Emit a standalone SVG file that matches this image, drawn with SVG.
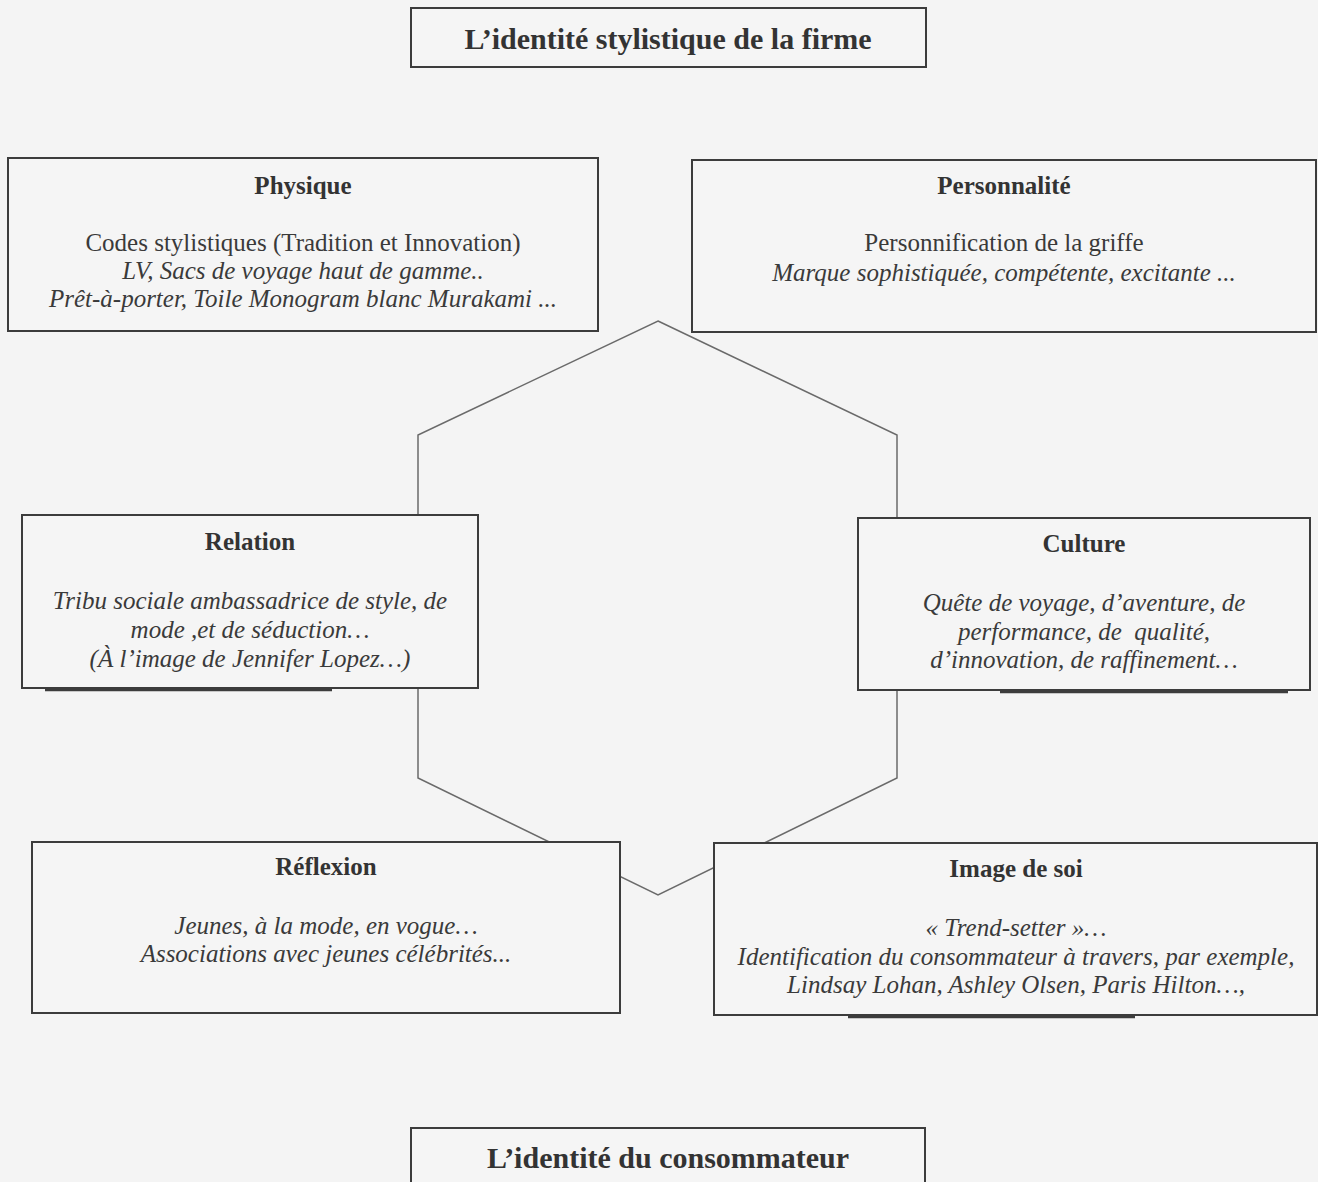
<svg xmlns="http://www.w3.org/2000/svg" width="1318" height="1182" viewBox="0 0 1318 1182">
<style>
.bg{fill:#f4f4f4}
.box{fill:#f5f5f5;stroke:#3c3c3c;stroke-width:2}
.sh{stroke:#3c3c3c;stroke-width:2.5}
.ttl{font-family:"Liberation Serif",serif;font-weight:bold;font-size:30px;fill:#333;text-anchor:middle}
.hd{font-family:"Liberation Serif",serif;font-weight:bold;font-size:25px;fill:#333;text-anchor:middle}
.tx{font-family:"Liberation Serif",serif;font-size:25px;fill:#3a3a3a;text-anchor:middle}
.it{font-style:italic}
.hex{fill:none;stroke:#6a6a6a;stroke-width:1.5}
</style>
<rect class="bg" x="0" y="0" width="1318" height="1182"/>
<g id="connectors">
<polygon class="hex" points="658,321 897,435 897,778 658,895 418,778 418,435"/>
</g>
<g id="title-firme">
<rect class="box" x="411" y="8" width="515" height="59"/>
<text class="ttl" x="668" y="49">L’identité stylistique de la firme</text>
</g>
<g id="physique">
<rect class="box" x="8" y="158" width="590" height="173"/>
<text class="hd" x="303" y="194">Physique</text>
<text class="tx" x="303" y="251">Codes stylistiques (Tradition et Innovation)</text>
<text class="tx it" x="303" y="279">LV, Sacs de voyage haut de gamme..</text>
<text class="tx it" x="303" y="307">Prêt-à-porter, Toile Monogram blanc Murakami ...</text>
</g>
<g id="personnalite">
<rect class="box" x="692" y="160" width="624" height="172"/>
<text class="hd" x="1004" y="194">Personnalité</text>
<text class="tx" x="1004" y="251">Personnification de la griffe</text>
<text class="tx it" x="1004" y="281">Marque sophistiquée, compétente, excitante ...</text>
</g>
<g id="relation">
<rect class="box" x="22" y="515" width="456" height="173"/>
<line class="sh" x1="45" y1="690" x2="332" y2="690"/>
<text class="hd" x="250" y="550">Relation</text>
<text class="tx it" x="250" y="609">Tribu sociale ambassadrice de style, de</text>
<text class="tx it" x="250" y="638">mode ,et de séduction…</text>
<text class="tx it" x="250" y="667">(À l’image de Jennifer Lopez…)</text>
</g>
<g id="culture">
<rect class="box" x="858" y="518" width="452" height="172"/>
<line class="sh" x1="1000" y1="692" x2="1288" y2="692"/>
<text class="hd" x="1084" y="552">Culture</text>
<text class="tx it" x="1084" y="611">Quête de voyage, d’aventure, de</text>
<text class="tx it" x="1084" y="640" xml:space="preserve">performance, de  qualité,</text>
<text class="tx it" x="1084" y="668">d’innovation, de raffinement…</text>
</g>
<g id="reflexion">
<rect class="box" x="32" y="842" width="588" height="171"/>
<text class="hd" x="326" y="875">Réflexion</text>
<text class="tx it" x="326" y="934">Jeunes, à la mode, en vogue…</text>
<text class="tx it" x="326" y="962">Associations avec jeunes célébrités...</text>
</g>
<g id="image-de-soi">
<rect class="box" x="714" y="843" width="603" height="172"/>
<line class="sh" x1="848" y1="1017" x2="1135" y2="1017"/>
<text class="hd" x="1016" y="877">Image de soi</text>
<text class="tx it" x="1016" y="936">« Trend-setter »…</text>
<text class="tx it" x="1016" y="965">Identification du consommateur à travers, par exemple,</text>
<text class="tx it" x="1016" y="993">Lindsay Lohan, Ashley Olsen, Paris Hilton…,</text>
</g>
<g id="title-consommateur">
<rect class="box" x="411" y="1128" width="514" height="80"/>
<text class="ttl" x="668" y="1168">L’identité du consommateur</text>
</g>
</svg>
